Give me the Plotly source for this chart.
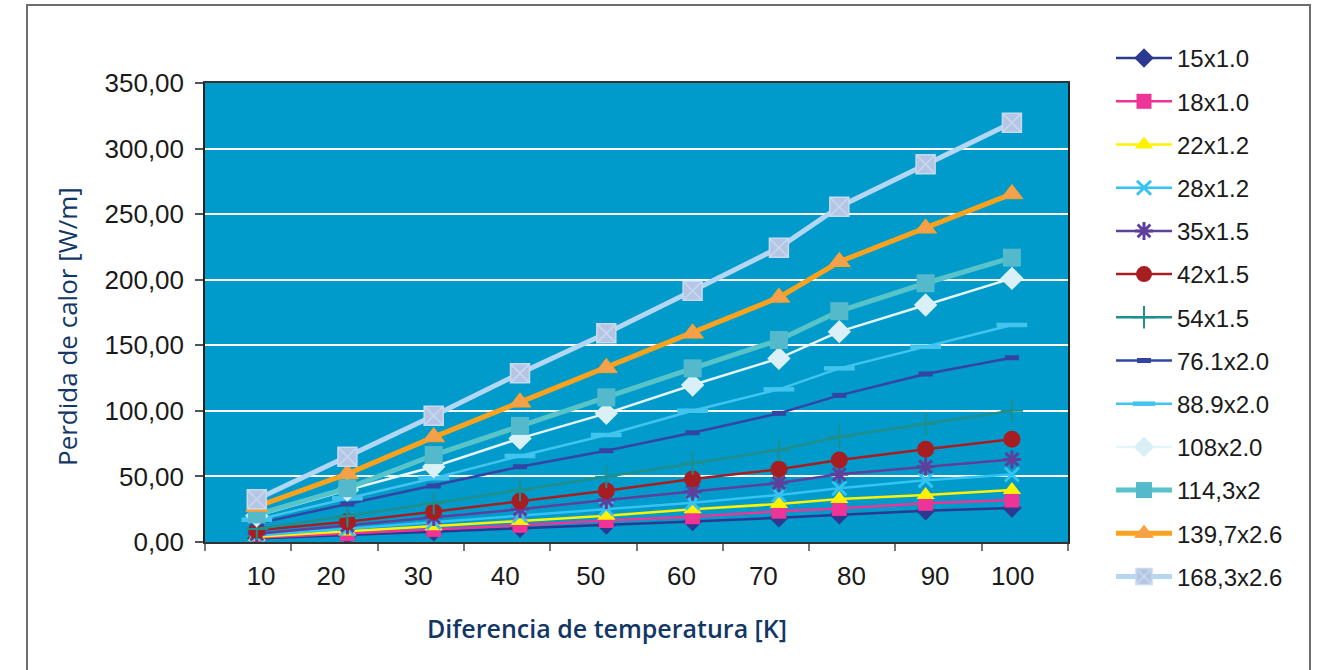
import plotly.graph_objects as go

x_vals = [11, 21.5, 31.5, 41.5, 51.5, 61.5, 71.5, 78.5, 88.5, 98.5]
x_tick_pos = [11.5, 19.6, 29.7, 39.8, 49.7, 60.2, 69.7, 79.9, 89.6, 98.6]
x_tick_text = ["10", "20", "30", "40", "50", "60", "70", "80", "90", "100"]

names = ["15x1.0", "18x1.0", "22x1.2", "28x1.2", "35x1.5", "42x1.5", "54x1.5",
         "76.1x2.0", "88.9x2.0", "108x2.0", "114,3x2", "139,7x2.6", "168,3x2.6"]

s_15 = [2.6, 5.2, 7.8, 10.4, 13.0, 15.6, 18.5, 20.8, 23.8, 26.0]
s_18 = [3.2, 6.4, 9.6, 12.8, 16.4, 19.3, 23.5, 25.6, 29.5, 32.0]
s_22 = [4.0, 8.0, 12.0, 16.0, 20.0, 25.0, 29.0, 32.8, 35.8, 39.7]
s_28 = [5.0, 10.2, 15.3, 20.4, 25.5, 30.0, 35.8, 41.0, 47.0, 51.5]
s_35 = [6.3, 12.6, 19.0, 25.0, 32.0, 38.4, 45.0, 51.6, 57.4, 63.0]
s_42 = [9.0, 15.5, 23.1, 31.3, 39.1, 48.0, 55.4, 62.5, 70.7, 78.3]
s_54 = [10.0, 19.8, 29.5, 39.7, 49.8, 60.0, 70.2, 80.3, 90.0, 100.0]
s_76 = [14.0, 29.0, 42.7, 57.4, 69.6, 83.3, 98.1, 111.8, 128.1, 140.5]
s_88 = [17.0, 33.3, 48.6, 65.6, 81.6, 100.1, 116.4, 132.4, 148.9, 165.5]
s_108 = [20.0, 39.6, 57.4, 79.0, 98.1, 119.7, 140.0, 160.4, 180.7, 201.0]
s_114 = [21.0, 41.0, 66.3, 88.5, 110.3, 132.4, 154.0, 176.0, 197.3, 216.8]
s_139 = [27.0, 52.0, 80.0, 106.5, 132.8, 159.1, 186.5, 213.7, 239.2, 265.4]
s_168 = [32.6, 65.0, 96.3, 128.6, 159.1, 191.6, 224.4, 255.7, 288.0, 319.7]

series = [s_15, s_18, s_22, s_28, s_35, s_42, s_54, s_76, s_88, s_108, s_114, s_139, s_168]

styles = [
    dict(lc="#2B3990", lw=2.5, sym="diamond", ms=15, mc="#2B3990", mlc="#2B3990", mlw=0),
    dict(lc="#EE3496", lw=2.5, sym="square", ms=15, mc="#EE3496", mlc="#EE3496", mlw=0),
    dict(lc="#FFF200", lw=2.5, sym="triangle-up", ms=16, mc="#FFF200", mlc="#FFF200", mlw=0),
    dict(lc="#35C4F1", lw=2.5, sym="x-thin-open", ms=14, mc="#35C4F1", mlc="#35C4F1", mlw=3),
    dict(lc="#5E3F9C", lw=2.5, sym="asterisk-open", ms=15, mc="#5E3F9C", mlc="#5E3F9C", mlw=3),
    dict(lc="#A61E22", lw=2.5, sym="circle", ms=17, mc="#A61E22", mlc="#A61E22", mlw=0),
    dict(lc="#1F8F8C", lw=2.5, sym="cross-thin-open", ms=16, mc="#1F8F8C", mlc="#1F8F8C", mlw=2),
    dict(lc="#3344A2", lw=2.5, sym="line-ew-open", ms=10, mc="#3344A2", mlc="#3344A2", mlw=5),
    dict(lc="#41C4EE", lw=2.5, sym="line-ew-open", ms=22, mc="#41C4EE", mlc="#41C4EE", mlw=4.5),
    dict(lc="#E6F5FA", lw=2.5, sym="diamond", ms=18, mc="#DAF0F7", mlc="#DAF0F7", mlw=0),
    dict(lc="#58C3C8", lw=5, sym="square", ms=18, mc="#55B9CC", mlc="#55B9CC", mlw=0),
    dict(lc="#F9A21E", lw=5, sym="triangle-up", ms=19, mc="#F5A04A", mlc="#F9A21E", mlw=1),
    dict(lc="#B3D6F2", lw=5, sym="square-x", ms=19, mc="#B7C5E5", mlc="#C6DAF0", mlw=1.5),
]

fig = go.Figure()
for name, vals, st in zip(names, series, styles):
    fig.add_trace(go.Scatter(
        x=x_vals, y=vals, name=name, mode="lines+markers", legendgroup=name,
        line=dict(color=st["lc"], width=st["lw"]),
        marker=dict(symbol=st["sym"], size=st["ms"], color=st["mc"],
                    line=dict(color=st["mlc"], width=st["mlw"])),
    ))

tick_font = dict(family="Liberation Sans, Arial, sans-serif", size=26, color="#1a1a1a")
legend_font = dict(family="Liberation Sans, Arial, sans-serif", size=24, color="#1a1a1a")
title_color = "#123766"

# plot-area pixel box (page coords)
PL, PR, PT, PB = 205, 1068, 83, 542
W, H = PR - PL, PB - PT


def px(xp):
    return (xp - PL) / W


def py(yp):
    return (PB - yp) / H


fig.update_layout(
    width=1326, height=670,
    margin=dict(l=PL, r=1326 - PR, t=PT, b=670 - PB),
    paper_bgcolor="white",
    plot_bgcolor="#009BCB",
    separators=", ",
    font=tick_font,
    showlegend=True,
    legend=dict(
        x=px(1111), xanchor="left",
        y=py(36), yanchor="top",
        font=legend_font, tracegroupgap=9, itemwidth=56, maxheight=800,
        bgcolor="rgba(0,0,0,0)", borderwidth=0,
    ),
    xaxis=dict(
        range=[5, 105], tickmode="array", tickvals=x_tick_pos, ticktext=x_tick_text,
        ticks="", showgrid=False, zeroline=False,
        showline=True, linecolor="#333333", linewidth=1.5, mirror=True,
        tickfont=tick_font, ticklabelstandoff=10,
        minor=dict(tickmode="linear", tick0=5, dtick=10, ticks="outside",
                   ticklen=7, tickwidth=1.5, tickcolor="#777777", showgrid=False),
    ),
    yaxis=dict(
        range=[0, 350], dtick=50, tickformat=".2f",
        ticks="outside", ticklen=8, tickwidth=1.5, tickcolor="#555555",
        showgrid=True, gridcolor="white", gridwidth=1.5, zeroline=False,
        showline=True, linecolor="#222222", linewidth=1.5, mirror=True,
        tickfont=tick_font, ticklabelstandoff=6,
    ),
    annotations=[
        dict(text="Diferencia de temperatura [K]", xref="paper", yref="paper",
             x=px(607), y=py(628), xanchor="center", yanchor="middle",
             showarrow=False,
             font=dict(family="Open Sans, Noto Sans, sans-serif", size=25, color=title_color, weight=600)),
        dict(text="Perdida de calor [W/m]", xref="paper", yref="paper",
             x=px(67), y=py(327), xanchor="center", yanchor="middle",
             textangle=-90, showarrow=False,
             font=dict(family="Open Sans, Noto Sans, sans-serif", size=26, color=title_color)),
    ],
    shapes=[
        dict(type="rect", xref="paper", yref="paper",
             x0=px(27), x1=px(1310), y0=py(700), y1=py(5),
             line=dict(color="#6D6D6D", width=2), fillcolor="rgba(0,0,0,0)", layer="below"),
    ],
)

fig.write_html("out.html", config={"displayModeBar": False},
               post_script="document.body.style.margin='0';")
